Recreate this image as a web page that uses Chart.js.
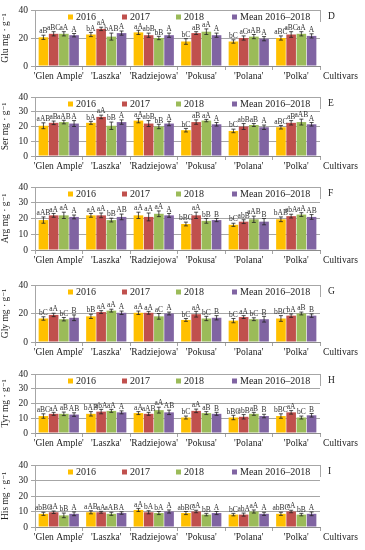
<!DOCTYPE html>
<html>
<head>
<meta charset="utf-8">
<script src="https://cdn.jsdelivr.net/npm/chart.js@4"></script>
<style>
  body { margin: 0; background: #fff; }
  #wrap { position: relative; width: 365px; height: 550px; overflow: hidden; }
  .panel { position: absolute; left: 0; width: 365px; }
</style>
</head>
<body>
<div id="wrap"></div>
<script>
const cultivars = ["'Glen Ample'", "'Laszka'", "'Radziejowa'", "'Pokusa'", "'Polana'", "'Polka'"];
const years = ["2016", "2017", "2018", "Mean 2016\u20132018"];
const colors = ["#FFC000", "#C0504D", "#9BBB59", "#8064A2"];
const yTicks = [0, 10, 20, 30, 40];

const panelAcids = ["Glu", "Ser", "Arg", "Gly", "Tyr", "His"];
const panelTags = ["D", "E", "F", "G", "H", "I"];

/* values: [2016, 2017, 2018, mean] per cultivar */
const gluValues = [
  [20.5, 22.5, 24, 17.5, 17.5, 20],
  [23, 26.5, 22, 23.5, 20, 22.5],
  [23, 21, 20, 24.5, 21, 23],
  [22, 23.5, 22, 22, 19.5, 21.5]
];
const gluErrors = [
  [1.5, 1.5, 1.5, 2, 1.2, 1.5],
  [1.5, 1.2, 1.5, 1, 1.5, 2],
  [1.5, 2.5, 1.2, 2, 1.5, 1.5],
  [1.2, 1.5, 1.5, 1.5, 1.5, 1.5]
];
const gluLetters = [
  ["aB", "bA", "aA", "bC", "bC", "aBC"],
  ["aBC", "aA", "abB", "aB", "aC", "aBC"],
  ["aA", "bAB", "bB", "aA", "aAB", "aA"],
  ["A", "A", "A", "A", "A", "A"]
];

const serValues = [
  [20.5, 22.5, 24, 17.5, 17, 19.5],
  [22.5, 26.5, 22, 23, 20, 22.5],
  [23, 20.5, 20, 24, 21, 23],
  [22, 23, 22, 21.5, 19.5, 21.5]
];
const serErrors = [
  [2, 1, 1.5, 1.2, 1.2, 1.2],
  [1.2, 1.2, 2, 1.5, 2, 1.5],
  [1.2, 2.5, 1.5, 0.8, 1, 2],
  [2, 1.5, 1.5, 1.2, 1.5, 1.2]
];
const serLetters = [
  ["aAB", "bA", "aA", "bC", "bC", "aBC"],
  ["aB", "aA", "abB", "aB", "abB", "aB"],
  ["aAB", "bB", "bB", "aA", "aB", "aAB"],
  ["A", "A", "A", "A", "A", "A"]
];

const argValues = [
  [19, 22, 22, 16.5, 16, 19.5],
  [22, 22, 21, 22, 18, 21.5],
  [22, 19, 23, 18.5, 19.5, 22.5],
  [21, 21, 22, 19, 18, 21]
];
const argErrors = [
  [2, 1.2, 2, 1.2, 1, 1.5],
  [1.2, 1.5, 2.5, 2, 1.2, 1.2],
  [2, 1.2, 1.8, 1.5, 2, 1.2],
  [1.2, 1.8, 1.2, 1, 2, 1.5]
];
const argLetters = [
  ["aAB", "aA", "aA", "bBC", "bC", "bAB"],
  ["aA", "aA", "aA", "aA", "abB", "abA"],
  ["aA", "bB", "aA", "bB", "aAB", "aA"],
  ["A", "AB", "A", "B", "B", "AB"]
];

const glyValues = [
  [16.5, 18, 20.5, 15.5, 15, 16.5],
  [19, 21, 20.5, 19.5, 17.5, 18.5],
  [16, 22, 18, 16.5, 16, 20],
  [17, 20.5, 20, 17, 16, 18.5]
];
const glyErrors = [
  [1.2, 1.5, 1.2, 1, 1.5, 2],
  [1.2, 1, 1, 2, 1, 1.2],
  [1.2, 1, 2, 1.5, 1, 1],
  [2, 1.2, 1, 1.5, 2, 1.2]
];
const glyLetters = [
  ["bC", "bB", "aA", "bC", "bC", "bBC"],
  ["aA", "aA", "aA", "aA", "aA", "bA"],
  ["bC", "aA", "aC", "bC", "bC", "aB"],
  ["B", "A", "A", "B", "B", "B"]
];

const tyrValues = [
  [11.5, 13, 13.5, 10.5, 10.5, 11.5],
  [13, 14.5, 13, 15, 11, 14],
  [13, 15, 15.5, 13.5, 13, 10.5],
  [12.5, 14, 14, 13, 11.5, 12]
];
const tyrErrors = [
  [1.5, 1.5, 1, 1, 1.5, 1.5],
  [1, 1.5, 1, 1.2, 1.5, 1.2],
  [1.2, 1, 2, 1, 1, 1],
  [1.2, 1, 1.5, 1, 1.2, 1.2]
];
const tyrLetters = [
  ["aBC", "bAB", "aA", "bC", "bBC", "bBC"],
  ["aA", "abA", "aAB", "aA", "abB", "aA"],
  ["aB", "aA", "aA", "aB", "aB", "bC"],
  ["AB", "A", "AB", "B", "B", "B"]
];

const hisValues = [
  [8.5, 9.5, 11, 9, 8, 8.5],
  [9.5, 9.5, 9.5, 10, 8, 10],
  [7.5, 8.5, 9, 8, 10, 8],
  [8.5, 9, 10, 9, 8.5, 8.5]
];
const hisErrors = [
  [1, 1, 1, 1, 0.8, 1],
  [0.8, 0.6, 1, 0.8, 1, 0.8],
  [1.5, 1, 1, 0.8, 1, 0.8],
  [1.2, 0.8, 1, 1, 1, 1.2]
];
const hisLetters = [
  ["abBC", "aAB", "aA", "abBC", "bC", "abBC"],
  ["aA", "aA", "bA", "aA", "abA", "aA"],
  ["bB", "aAB", "bA", "bB", "aA", "bB"],
  ["A", "A", "A", "A", "A", "A"]
];

const panelValues = [gluValues, serValues, argValues, glyValues, tyrValues, hisValues];
const panelErrors = [gluErrors, serErrors, argErrors, glyErrors, tyrErrors, hisErrors];
const panelLetters = [gluLetters, serLetters, argLetters, glyLetters, tyrLetters, hisLetters];

// plot area top (value 40) and bottom (value 0) in page pixels
const plotTops = [10, 97, 187, 285, 374, 465];
const plotBottoms = [66, 156, 250, 342, 433, 527];

const SERIF = "'Liberation Serif', 'DejaVu Serif', serif";
const GRID = "#a6a6a6";
const legendX = [68, 122, 176, 232];

const extras = {
  id: "extras",
  afterDatasetsDraw(chart, args, opts) {
    const { ctx, chartArea: a, scales: { y } } = chart;
    ctx.save();
    // error bars and letters
    chart.data.datasets.forEach((ds, i) => {
      chart.getDatasetMeta(i).data.forEach((bar, j) => {
        const v = ds.data[j], e = opts.errors[i][j];
        const yt = y.getPixelForValue(v + e), yb = y.getPixelForValue(v - e);
        ctx.strokeStyle = "#222";
        ctx.lineWidth = 0.8;
        ctx.beginPath();
        ctx.moveTo(bar.x, yt); ctx.lineTo(bar.x, yb);
        ctx.moveTo(bar.x - 2, yt); ctx.lineTo(bar.x + 2, yt);
        ctx.moveTo(bar.x - 2, yb); ctx.lineTo(bar.x + 2, yb);
        ctx.stroke();
        ctx.fillStyle = "#333";
        ctx.font = "7.5px " + SERIF;
        ctx.textAlign = "center";
        ctx.textBaseline = "bottom";
        ctx.fillText(opts.letters[i][j], bar.x, yt);
      });
    });
    // legend
    const ly = a.top + 7;
    ctx.font = "10px " + SERIF;
    ctx.textBaseline = "middle";
    ctx.textAlign = "left";
    chart.data.datasets.forEach((ds, i) => {
      ctx.fillStyle = ds.backgroundColor;
      ctx.fillRect(legendX[i], ly - 2.5, 5, 5);
      ctx.fillStyle = "#222";
      ctx.fillText(ds.label, legendX[i] + 8, ly);
    });
    // right edge stub, panel tag, x title
    ctx.strokeStyle = GRID;
    ctx.lineWidth = 1;
    ctx.beginPath();
    ctx.moveTo(a.right + 0.5, a.top);
    ctx.lineTo(a.right + 0.5, a.top + 12);
    ctx.stroke();
    ctx.fillStyle = "#222";
    ctx.font = "9.5px " + SERIF;
    ctx.fillText(opts.tag, a.right + 8, a.top + 6);
    ctx.fillText("Cultivars", a.right + 3, a.bottom + 10);
    ctx.restore();
  }
};

const wrap = document.getElementById("wrap");
panelAcids.forEach((acid, p) => {
  const padTop = 10, xAxisH = 24;
  const top = plotTops[p] - padTop;
  const h = plotBottoms[p] - plotTops[p] + padTop + xAxisH;
  const div = document.createElement("div");
  div.className = "panel";
  div.style.top = top + "px";
  div.style.height = h + "px";
  const cv = document.createElement("canvas");
  div.appendChild(cv);
  wrap.appendChild(div);

  new Chart(cv, {
    type: "bar",
    data: {
      labels: cultivars,
      datasets: years.map((yr, i) => ({
        label: yr,
        data: panelValues[p][i],
        backgroundColor: colors[i],
        borderWidth: 0,
        categoryPercentage: 0.86,
        barPercentage: 0.94
      }))
    },
    options: {
      responsive: true,
      maintainAspectRatio: false,
      animation: false,
      layout: { padding: { top: padTop, right: 45, left: 0, bottom: 0 } },
      plugins: {
        legend: { display: false },
        tooltip: { enabled: false },
        extras: { errors: panelErrors[p], letters: panelLetters[p], tag: panelTags[p] }
      },
      scales: {
        x: {
          afterFit: s => { s.height = xAxisH; },
          grid: { display: true, drawOnChartArea: false, drawTicks: true, tickLength: 4, color: GRID, offset: true },
          border: { display: true, color: "#8c8c8c" },
          ticks: { color: "#222", padding: 1, maxRotation: 0, autoSkip: false, font: { family: SERIF, size: 9.5 } }
        },
        y: {
          min: 0, max: 40,
          afterFit: s => { s.width = 35; },
          afterBuildTicks: s => { s.ticks = yTicks.map(v => ({ value: v })); },
          grid: { color: GRID, tickLength: 4 },
          border: { display: true, color: GRID },
          ticks: { color: "#222", padding: 3, font: { family: SERIF, size: 9.5 } },
          title: {
            display: true,
            text: acid + " mg \u00b7 g\u207b\u00b9",
            color: "#222",
            padding: { top: 0, bottom: 0 },
            font: { family: SERIF, size: 9.5 }
          }
        }
      }
    },
    plugins: [extras]
  });
});
</script>
</body>
</html>
